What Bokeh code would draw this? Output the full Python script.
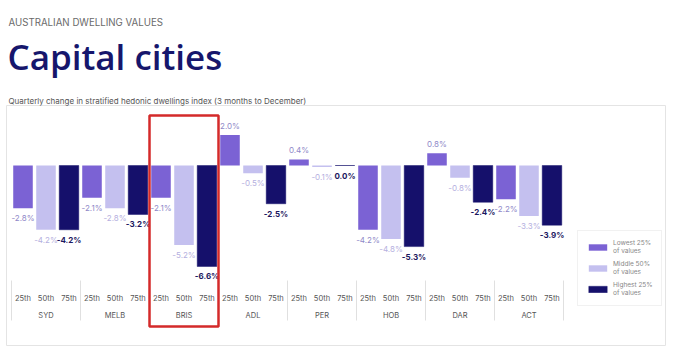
from bokeh.plotting import figure
from bokeh.models import (ColumnDataSource, Range1d, Label, Legend, LegendItem, BoxAnnotation)
from bokeh.core.properties import value
from bokeh.embed import file_html
from bokeh.resources import INLINE

# ---- data ----
cities = ["SYD", "MELB", "BRIS", "ADL", "PER", "HOB", "DAR", "ACT"]
pcts = ["25th", "50th", "75th"]
lowest = [-2.8, -2.1, -2.1, 2.0, 0.4, -4.2, 0.8, -2.2]
middle = [-4.2, -2.8, -5.2, -0.5, -0.1, -4.8, -0.8, -3.3]
highest = [-4.2, -3.2, -6.6, -2.5, 0.0, -5.3, -2.4, -3.9]
series_names = ["Lowest 25%\nof values", "Middle 50%\nof values", "Highest 25%\nof values"]
highlight_city = "BRIS"

kicker = "AUSTRALIAN DWELLING VALUES"
title = "Capital cities"
subtitle = "Quarterly change in stratified hedonic dwellings index (3 months to December)"

# ---- style / layout ----
W, H = 674, 351
FONT = "Inter"
TITLE_FONT = "'Open Sans SemiBold', 'Open Sans Semibold', 'DejaVu Sans'"
colors = ["#7b62d4", "#c4c0ef", "#15106b"]
label_colors = ["#8f88c8", "#b5b0e0", "#1b1760"]
label_styles = ["normal", "normal", "bold"]

PX_PER_SLOT = 23.0      # horizontal pixels per bar slot
LEFT_PX = 11.0          # pixel position of first slot edge
ZERO_PX = 165.0         # pixel row of the zero line
PX_PER_PCT = 15.3       # vertical pixels per percentage point


def ydata(py):
    return (ZERO_PX - py) / PX_PER_PCT


x_start = -LEFT_PX / PX_PER_SLOT
x_end = x_start + W / PX_PER_SLOT

p = figure(width=W, height=H,
           x_range=Range1d(x_start, x_end), y_range=Range1d(ydata(H), ydata(0)),
           output_backend="svg", toolbar_location=None,
           min_border=0, min_border_left=0, min_border_right=0,
           min_border_top=0, min_border_bottom=0,
           x_axis_location=None, y_axis_location=None, outline_line_color=None)
p.xgrid.visible = False
p.ygrid.visible = False

n_sub = len(pcts)

# panel border
p.add_layout(BoxAnnotation(left=6, right=665, top=H - 105, bottom=H - 345,
                           left_units="screen", right_units="screen",
                           top_units="screen", bottom_units="screen",
                           fill_color=None, line_color="#e4e4e4", line_alpha=1, line_width=1))

renderers = []
for j, (vals, q, col, lc, ls) in enumerate(zip([lowest, middle, highest], pcts, colors,
                                                label_colors, label_styles)):
    xs = [i * n_sub + j + 0.5 for i in range(len(cities))]
    src = ColumnDataSource(dict(x=xs, top=vals))
    r = p.vbar(x="x", top="top", bottom=0, width=0.85, source=src,
               fill_color=col, line_color=col if j == n_sub - 1 else None,
               line_width=0.8, line_alpha=0.6)
    renderers.append(r)
    neg = [(x, v) for x, v in zip(xs, vals) if v <= 0]
    pos = [(x, v) for x, v in zip(xs, vals) if v > 0]
    if neg:
        s = ColumnDataSource(dict(x=[a for a, _ in neg], y=[b for _, b in neg],
                                  t=[f"{b:.1f}%" for _, b in neg]))
        p.text(x="x", y="y", text="t", source=s, text_align="center", text_baseline="top",
               y_offset=5, text_font=value(FONT), text_font_size="8px",
               text_color=lc, text_font_style=ls)
    if pos:
        s = ColumnDataSource(dict(x=[a for a, _ in pos], y=[b for _, b in pos],
                                  t=[f"{b:.1f}%" for _, b in pos]))
        p.text(x="x", y="y", text="t", source=s, text_align="center", text_baseline="bottom",
               y_offset=-4, text_font=value(FONT), text_font_size="8px",
               text_color=lc, text_font_style=ls)

# category axis drawn as text
sub_src = ColumnDataSource(dict(
    x=[i * n_sub + j + 0.5 for i in range(len(cities)) for j in range(n_sub)],
    t=[q for _ in cities for q in pcts]))
p.text(x="x", y=ydata(298), text="t", source=sub_src, text_align="center",
       text_baseline="middle", text_font=value(FONT), text_font_size="7.5px",
       text_color="#555555")
grp_src = ColumnDataSource(dict(x=[i * n_sub + n_sub / 2 for i in range(len(cities))], t=cities))
p.text(x="x", y=ydata(315), text="t", source=grp_src, text_align="center",
       text_baseline="middle", text_font=value(FONT), text_font_size="7.5px",
       text_color="#555555")
sep_x = [i * n_sub for i in range(len(cities) + 1)]
p.segment(x0=sep_x, x1=sep_x, y0=[ydata(280)] * len(sep_x), y1=[ydata(320)] * len(sep_x),
          line_color="#e0e0e0", line_width=1)

# titles
p.add_layout(Label(x=8, y=H - 22, x_units="screen", y_units="screen", text=kicker,
                   text_font=FONT, text_font_size="9.7px", text_color="#6a6a6a",
                   text_baseline="alphabetic"))
p.add_layout(Label(x=7, y=H - 56, x_units="screen", y_units="screen", text=title,
                   text_font=TITLE_FONT, text_font_size="35px", text_color="#16166c",
                   text_baseline="alphabetic"))
p.add_layout(Label(x=8, y=H - 100, x_units="screen", y_units="screen", text=subtitle,
                   text_font=FONT, text_font_size="8px", text_color="#555555",
                   text_baseline="alphabetic"))

# highlight box
hi = cities.index(highlight_city) * n_sub
p.add_layout(BoxAnnotation(left=hi, right=hi + n_sub, top=H - 115, bottom=H - 326,
                           top_units="screen", bottom_units="screen",
                           fill_color=None, line_color="#d42a2a", line_alpha=1, line_width=2.5))

legend = Legend(items=[LegendItem(label=n, renderers=[r]) for n, r in zip(series_names, renderers)],
                location=(577, H - 306), glyph_width=23, glyph_height=8, label_standoff=4,
                label_text_font=FONT, label_text_font_size="6.5px", label_text_color="#888888",
                border_line_color="#e4e4e4", padding=8, spacing=5, margin=0)
p.add_layout(legend, "center")

open("out.html", "w").write(file_html(p, INLINE))
